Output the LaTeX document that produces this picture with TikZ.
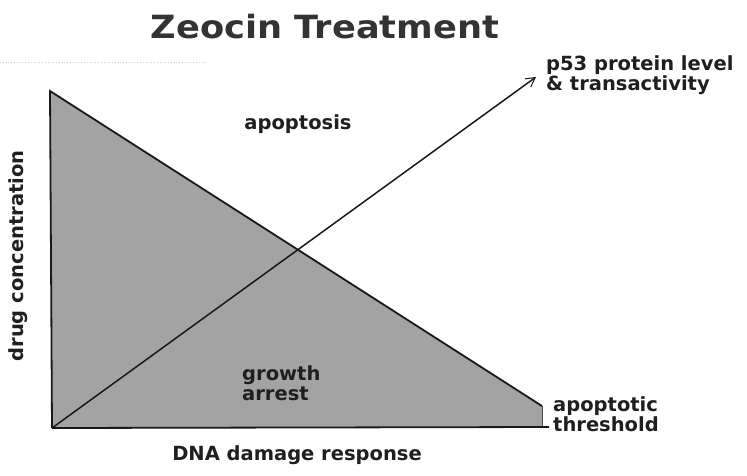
\documentclass[tikz,border=0pt]{standalone}
\usepackage{fontspec}
\setmainfont{DejaVu Sans}
\usetikzlibrary{arrows.meta}
\begin{document}
\begin{tikzpicture}[x=1pt,y=-1pt,
  lbl/.style={font=\bfseries\fontsize{19.5}{20.5}\selectfont, text=black!88, inner sep=0pt},
  edge/.style={line width=1.8pt, black!90}]
\useasboundingbox (0,0) rectangle (747,475);
\fill[white] (0,0) rectangle (747,475);
% faint dotted line
\draw[gray!40, dotted, line width=0.8pt] (0,62) -- (205,62);
% shaded region
\coordinate (tl) at (50,91);
\coordinate (o) at (52,428);
\coordinate (tr) at (542,406);
\coordinate (br) at (542,427);
\coordinate (be) at (549,427);
\fill[black!36] (tl) -- (tr) -- (br) -- (o) -- cycle;
\draw[edge] (o) -- (tl) -- (tr);
\draw[line width=0.6pt, black!70] (tr) -- (br);
\draw[edge] (o) -- (be);
% arrow
\coordinate (tip) at (536,77);
\draw[edge, line width=1.5pt, -{Straight Barb[length=9pt,width=10pt,line width=1pt]}] (o) -- (tip);
% texts
\node[font=\bfseries\fontsize{32}{36}\selectfont, text=black!80, xscale=1.1] (title) at (325,27) {Zeocin Treatment};
\node[lbl] (apop) at (298,124) {apoptosis};
\node[lbl, align=left, anchor=west] (grow) at (242,383) {growth\\arrest};
\node[lbl, rotate=90] (drug) at (18,256) {drug concentration};
\node[lbl] (dna) at (297,455) {DNA damage response};
\node[lbl, align=left, anchor=west] (p53) at (546,75) {p53 protein level\\\& transactivity};
\node[lbl, align=left, anchor=west] (thr) at (553,414) {apoptotic\\threshold};
\end{tikzpicture}
\end{document}
